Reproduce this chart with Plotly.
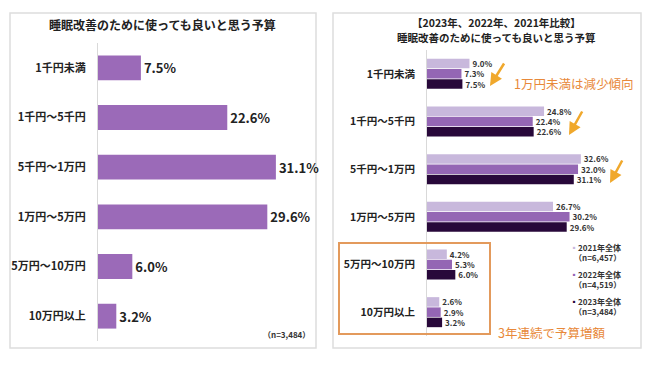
import plotly.graph_objects as go

# ---- data ----
categories = ["1千円未満", "1千円～5千円", "5千円～1万円", "1万円～5万円", "5万円～10万円", "10万円以上"]
values_2023 = [7.5, 22.6, 31.1, 29.6, 6.0, 3.2]
values_2022 = [7.3, 22.4, 32.0, 30.2, 5.3, 2.9]
values_2021 = [9.0, 24.8, 32.6, 26.7, 4.2, 2.6]
series_names = ["2021年全体", "2022年全体", "2023年全体"]
series_n = ["（n=6,457）", "（n=4,519）", "（n=3,484）"]
left_title = "睡眠改善のために使っても良いと思う予算"
right_title_1 = "【2023年、2022年、2021年比較】"
right_title_2 = "睡眠改善のために使っても良いと思う予算"
left_note = "（n=3,484）"
note_decrease = "1万円未満は減少傾向"
note_increase = "3年連続で予算増額"

W, H = 650, 366
FONT = "Noto Sans CJK JP"
C_LEFT = "#9b6ab8"
C21, C22, C23 = "#c8b8dc", "#9466b4", "#28083a"
ORANGE = "#e8893a"
ARROW = "#f0a82c"

def px(x):
    return x / W

def py(y):
    return 1 - y / H

fig = go.Figure()

# left panel
fig.add_trace(go.Bar(
    y=categories, x=values_2023, orientation="h", marker=dict(color=C_LEFT, line=dict(width=0)),
    width=0.5, texttemplate="%{x:.1f}%", textposition="outside", constraintext="none",
    cliponaxis=False, textfont=dict(size=13, color="#222", family=FONT, weight="bold"),
    xaxis="x", yaxis="y", showlegend=False, hoverinfo="skip"))

# right panel
for vals, col, off in [(values_2021, C21, -0.315), (values_2022, C22, -0.1), (values_2023, C23, 0.115)]:
    fig.add_trace(go.Bar(
        y=categories, x=vals, orientation="h", marker=dict(color=col, line=dict(width=0)),
        width=0.2, offset=off, texttemplate="%{x:.1f}%", textposition="outside",
        constraintext="none", cliponaxis=False,
        textfont=dict(size=8, color="#333", family=FONT, weight="bold"),
        xaxis="x2", yaxis="y2", showlegend=False, hoverinfo="skip"))

axis_common = dict(showgrid=False, zeroline=False, showticklabels=False, showline=False, fixedrange=True)

def ycommon(size):
    return dict(type="category", autorange="reversed", showgrid=False, zeroline=False,
                showline=True, linecolor="#d9d9d9", linewidth=1, ticks="outside", ticklen=9,
                tickcolor="rgba(0,0,0,0)", fixedrange=True,
                tickfont=dict(size=size, color="#222", family=FONT, weight="bold"))

fig.update_layout(
    width=W, height=H, autosize=False,
    margin=dict(l=0, r=0, t=0, b=0),
    paper_bgcolor="white", plot_bgcolor="rgba(0,0,0,0)",
    barmode="overlay",
    font=dict(family=FONT, color="#222"),
    xaxis=dict(domain=[px(98), px(98 + 35 * 5.72)], range=[0, 35], anchor="y", **axis_common),
    yaxis=dict(domain=[py(341), py(43)], anchor="x", **ycommon(11)),
    xaxis2=dict(domain=[px(427), px(427 + 40 * 4.72)], range=[0, 40], anchor="y2", **axis_common),
    yaxis2=dict(domain=[py(336), py(50)], anchor="x2", **ycommon(10.5)),
)

shapes = [
    dict(type="rect", xref="paper", yref="paper", x0=px(10), x1=px(316), y0=py(348), y1=py(13),
         line=dict(color="#dddddd", width=1.5), layer="below"),
    dict(type="rect", xref="paper", yref="paper", x0=px(333), x1=px(641), y0=py(348), y1=py(13),
         line=dict(color="#dddddd", width=1.5), layer="below"),
    dict(type="rect", xref="paper", yref="paper", x0=px(339), x1=px(490), y0=py(334), y1=py(243),
         line=dict(color="#e39a5c", width=2)),
]
fig.update_layout(shapes=shapes)

ann = []
def text(x, y, t, size, color="#222", xanchor="center", weight="normal"):
    ann.append(dict(x=px(x), y=py(y), xref="paper", yref="paper", text=t, showarrow=False,
                    xanchor=xanchor, yanchor="middle",
                    font=dict(size=size, color=color, family=FONT, weight=weight)))

text(163, 25, left_title, 12, weight="bold")
text(496, 23, right_title_1, 10.5, weight="bold")
text(496, 37, right_title_2, 10.5, weight="bold")
text(312, 334, left_note, 8, "#333", "right", "bold")
text(512, 83, note_decrease, 12.5, ORANGE, "left")
text(496, 332, note_increase, 12.5, ORANGE, "left")

leg_y = [247, 274, 301]
for name, n, col, yy in zip(series_names, series_n, [C21, C22, C23], leg_y):
    text(568, yy, f'<span style="color:{col}">▪</span>{name}', 8, "#333", "left", "bold")
    text(572, yy + 10, n, 8, "#333", "left", "bold")

for hx, hy, ax, ay in [(490, 86, 15, -24), (569, 135, 14, -25), (610, 183, 13, -24)]:
    ann.append(dict(x=px(hx), y=py(hy), xref="paper", yref="paper", ax=ax, ay=ay, axref="pixel",
                    ayref="pixel", showarrow=True, arrowhead=2, arrowsize=1, arrowwidth=2.5,
                    arrowcolor=ARROW, text=""))

fig.update_layout(annotations=ann)
fig.write_html("out.html", config={"displayModeBar": False, "staticPlot": True},
               post_script="document.body.style.margin='0';document.body.style.overflow='hidden';")
